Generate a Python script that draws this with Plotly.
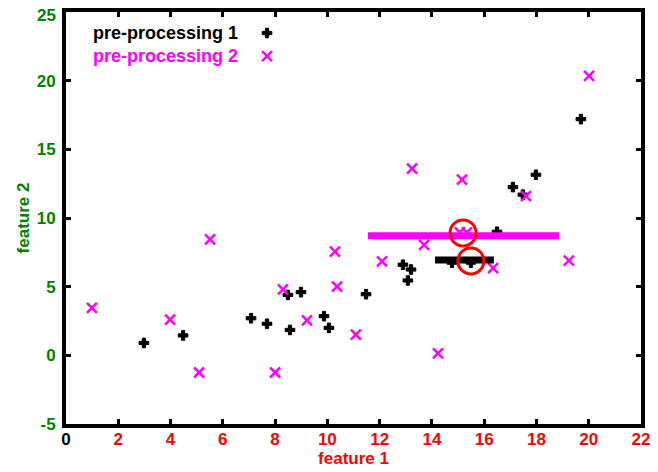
import plotly.graph_objects as go

# pre-processing 1 (black crosses)
x1 = [2.98, 4.48, 7.08, 7.69, 8.49, 8.57, 8.99, 9.87, 10.06, 11.48, 12.89, 13.20, 13.08,
      14.77, 15.49, 16.49, 17.10, 17.48, 17.98, 19.70]
y1 = [0.9, 1.45, 2.7, 2.3, 4.4, 1.85, 4.6, 2.85, 2.0, 4.45, 6.6, 6.25, 5.45,
      6.75, 6.75, 9.0, 12.25, 11.7, 13.15, 17.2]

# pre-processing 2 (magenta x)
x2 = [0.99, 3.98, 5.09, 5.51, 8.00, 8.30, 9.22, 10.29, 10.37, 11.09, 12.09, 13.24, 13.70,
      14.23, 15.15, 15.07, 15.34, 16.34, 17.60, 19.24, 20.01]
y2 = [3.45, 2.6, -1.25, 8.45, -1.25, 4.8, 2.55, 7.55, 5.0, 1.5, 6.85, 13.6, 8.05,
      0.15, 12.8, 8.95, 8.95, 6.35, 11.6, 6.9, 20.35]

# summary bars (x range at a given y)
bar1_x = [14.12, 16.37]
bar1_y = [6.94, 6.94]
bar2_x = [11.55, 18.86]
bar2_y = [8.7, 8.7]

# centres (red circles)
cx = [15.19, 15.49]
cy = [8.91, 6.87]

xticks = [0, 2, 4, 6, 8, 10, 12, 14, 16, 18, 20, 22]
xticktext = ["<span style='color:black'>0</span>"] + [str(v) for v in xticks[1:]]
yticks = [-5, 0, 5, 10, 15, 20, 25]
# the top label is drawn as an annotation (nudged so it is not clipped)
yticktext = [str(v) for v in yticks[:-1]] + [""]
ytop_label = str(yticks[-1])

FONT = "Liberation Sans, Arial, sans-serif"
MAGENTA = "#ff00ff"

fig = go.Figure()
fig.add_trace(go.Scatter(x=x1, y=y1, mode="markers",
                         marker=dict(symbol="cross", size=8, color="black",
                                     line=dict(color="black", width=1)),
                         showlegend=False))
fig.add_trace(go.Scatter(x=x2, y=y2, mode="markers",
                         marker=dict(symbol="x-thin", size=10, color=MAGENTA,
                                     line=dict(color=MAGENTA, width=2.5)),
                         showlegend=False))
fig.add_trace(go.Scatter(x=bar2_x, y=bar2_y, mode="lines",
                         line=dict(color=MAGENTA, width=7), showlegend=False))
fig.add_trace(go.Scatter(x=bar1_x, y=bar1_y, mode="lines",
                         line=dict(color="black", width=7), showlegend=False))
fig.add_trace(go.Scatter(x=cx, y=cy, mode="markers",
                         marker=dict(symbol="circle-open", size=26, color="red",
                                     line=dict(color="red", width=3)),
                         showlegend=False))

# legend samples on an overlay axis (0..1 fractions of plot area)
fig.add_trace(go.Scatter(x=[0.3496], y=[0.949], mode="markers", xaxis="x2", yaxis="y2",
                         marker=dict(symbol="cross", size=8, color="black",
                                     line=dict(color="black", width=1)),
                         showlegend=False, hoverinfo="skip"))
fig.add_trace(go.Scatter(x=[0.3496], y=[0.893], mode="markers", xaxis="x2", yaxis="y2",
                         marker=dict(symbol="x-thin", size=10, color=MAGENTA,
                                     line=dict(color=MAGENTA, width=2.5)),
                         showlegend=False, hoverinfo="skip"))

axis_common = dict(showline=True, linewidth=4, linecolor="black", mirror="ticks",
                   ticks="inside", ticklen=5, tickwidth=3, tickcolor="black",
                   showgrid=False, zeroline=False, automargin=False,
                   ticklabeloverflow="allow")

# page body adds an 8px offset; figure sized to fill the remaining window
fig.update_layout(
    template="none",
    width=650, height=464,
    margin=dict(l=58, r=17, t=4, b=48, autoexpand=False),
    plot_bgcolor="white", paper_bgcolor="white",
    font=dict(family=FONT, size=17),
    xaxis=dict(range=[0, 22], tickvals=xticks, ticktext=xticktext,
               tickfont=dict(color="red", size=17, family=FONT, weight="bold"),
               ticklabelstandoff=-3,
               title=dict(text="feature 1",
                          font=dict(color="red", size=17, family=FONT, weight="bold"),
                          standoff=0),
               **axis_common),
    yaxis=dict(range=[-5, 25], tickvals=yticks, ticktext=yticktext,
               tickfont=dict(color="green", size=17, family=FONT, weight="bold"),
               ticklabelstandoff=3,
               title=dict(text="feature 2",
                          font=dict(color="green", size=17, family=FONT, weight="bold"),
                          standoff=4),
               **axis_common),
    xaxis2=dict(range=[0, 1], overlaying="x", visible=False, fixedrange=True,
                automargin=False),
    yaxis2=dict(range=[0, 1], overlaying="y", visible=False, fixedrange=True,
                automargin=False),
    annotations=[
        dict(text=ytop_label, xref="paper", yref="paper", x=0, y=1,
             xanchor="right", yanchor="middle", xshift=-8, yshift=-3, showarrow=False,
             font=dict(color="green", size=17, family=FONT, weight="bold")),
        dict(text="pre-processing 1", xref="paper", yref="paper", x=0.302, y=0.949,
             xanchor="right", yanchor="middle", showarrow=False,
             font=dict(color="black", size=18, family=FONT, weight="bold")),
        dict(text="pre-processing 2", xref="paper", yref="paper", x=0.302, y=0.893,
             xanchor="right", yanchor="middle", showarrow=False,
             font=dict(color=MAGENTA, size=18, family=FONT, weight="bold")),
    ],
)

fig.write_html("out.html")
